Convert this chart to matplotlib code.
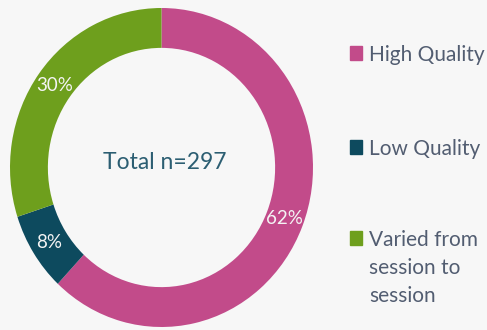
import matplotlib.pyplot as plt
from matplotlib.patches import Rectangle

labels = ['High Quality', 'Low Quality', 'Varied from\nsession to\nsession']
shares = [62, 8, 30]
colors = ['#C24B8A', '#0D4A5E', '#6E9F1D']
total_n = 297

plt.rcParams['font.family'] = ['Lato', 'DejaVu Sans']

fig = plt.figure(figsize=(4.87, 3.30), dpi=100)
fig.patch.set_facecolor('#F7F7F7')

# ring is slightly taller than wide, so axes are not forced square
ax = fig.add_axes([10 / 487, 3 / 330, 303 / 487, 319 / 330])
ax.set_facecolor('#F7F7F7')
wedges, texts, autotexts = ax.pie(
    shares, colors=colors, startangle=90, counterclock=False,
    autopct='%.0f%%', pctdistance=0.875,
    wedgeprops=dict(width=0.25, linewidth=0),
    textprops=dict(color='#F4F4F4', fontsize=13.5))
ax.set_aspect('auto')
ax.set_xlim(-1, 1)
ax.set_ylim(-1, 1)
ax.axis('off')

ax.text(0.02, 0.03, 'Total n=%d' % total_n, ha='center', va='center',
        fontsize=16.5, color='#2C5E72')

# legend drawn by hand: square marker plus label on the right
rows_y = [53, 147, 238]
for lab, col, y in zip(labels, colors, rows_y):
    fy = 1 - y / 330
    fig.patches.append(Rectangle((350 / 487, fy - 7 / 330), 12 / 487, 14 / 330,
                                 transform=fig.transFigure, color=col, zorder=3))
    fig.text(369 / 487, fy + 8 / 330, lab, ha='left', va='top', fontsize=15,
             color='#525D71', linespacing=1.5)

fig.savefig('out.png', dpi=100, facecolor=fig.get_facecolor())
